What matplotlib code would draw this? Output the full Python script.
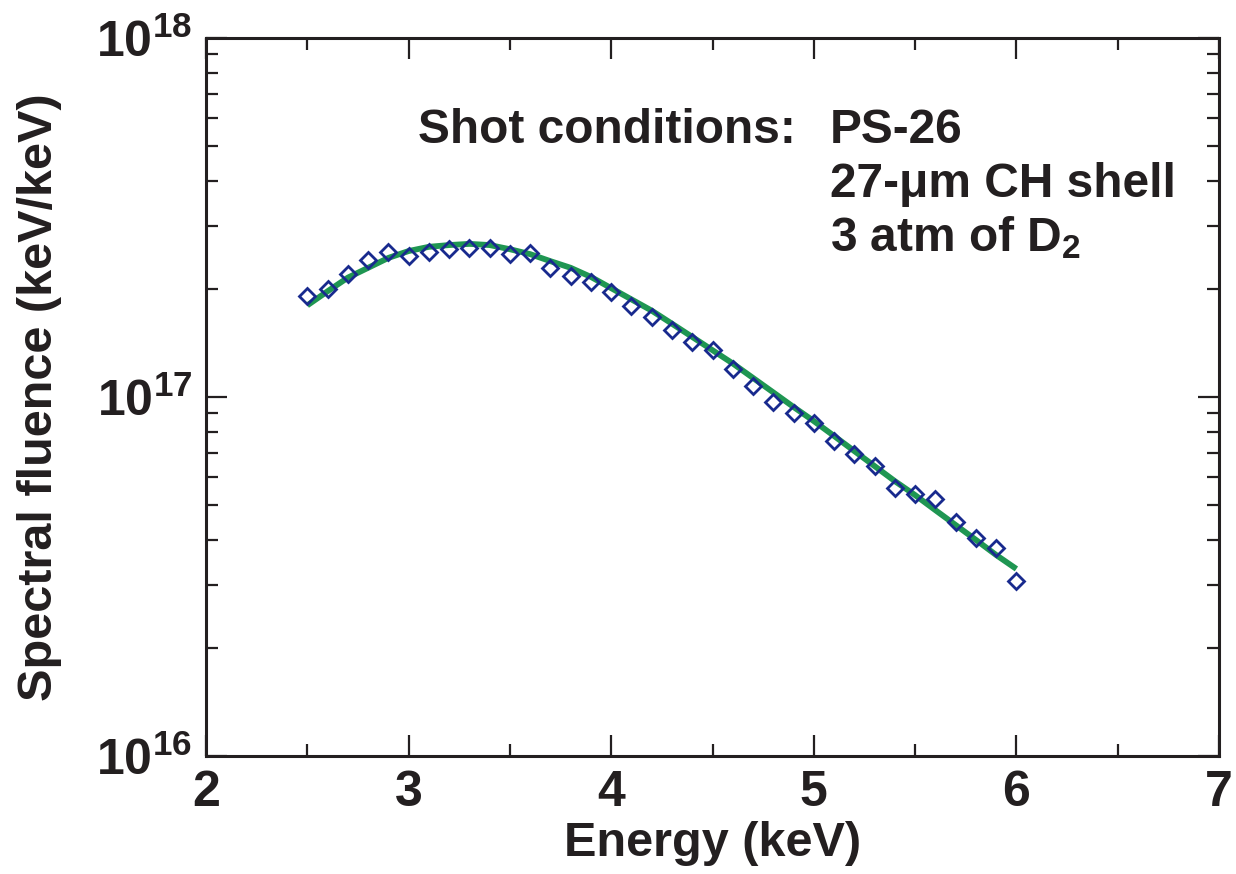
import matplotlib
matplotlib.use("Agg")
import matplotlib.pyplot as plt
from matplotlib.ticker import FixedLocator, FixedFormatter, LogLocator, NullFormatter, MultipleLocator

plt.rcParams['font.family'] = ['Liberation Sans', 'DejaVu Sans']
plt.rcParams['font.weight'] = 'bold'
plt.rcParams['mathtext.fontset'] = 'custom'
plt.rcParams['mathtext.rm'] = 'Liberation Sans:bold'
plt.rcParams['mathtext.bf'] = 'Liberation Sans:bold'
plt.rcParams['mathtext.it'] = 'Liberation Sans:bold'

# Measured data (diamonds)
energy = [2.5, 2.6, 2.7, 2.8, 2.9, 3.0, 3.1, 3.2, 3.3, 3.4, 3.5, 3.6, 3.7, 3.8,
          3.9, 4.0, 4.1, 4.2, 4.3, 4.4, 4.5, 4.6, 4.7, 4.8, 4.9, 5.0, 5.1, 5.2,
          5.3, 5.4, 5.5, 5.6, 5.7, 5.8, 5.9, 6.0]
fluence = [1.91e17, 2.00e17, 2.20e17, 2.41e17, 2.53e17, 2.47e17, 2.53e17, 2.58e17,
           2.60e17, 2.60e17, 2.50e17, 2.52e17, 2.29e17, 2.17e17, 2.09e17, 1.96e17,
           1.79e17, 1.67e17, 1.54e17, 1.42e17, 1.35e17, 1.20e17, 1.07e17, 9.68e16,
           9.03e16, 8.46e16, 7.54e16, 6.94e16, 6.42e16, 5.58e16, 5.37e16, 5.20e16,
           4.49e16, 4.05e16, 3.80e16, 3.07e16]

# Fit curve (green line)
fit_energy = energy
fit_fluence = [1.80e17, 1.97e17, 2.15e17, 2.29e17, 2.44e17, 2.55e17, 2.62e17, 2.65e17,
               2.67e17, 2.65e17, 2.58e17, 2.50e17, 2.39e17, 2.29e17, 2.16e17, 2.01e17,
               1.87e17, 1.74e17, 1.60e17, 1.47e17, 1.35e17, 1.24e17, 1.13e17, 1.03e17,
               9.38e16, 8.57e16, 7.79e16, 7.07e16, 6.42e16, 5.83e16, 5.33e16, 4.84e16,
               4.40e16, 4.00e16, 3.63e16, 3.32e16]

x_ticks = [2, 3, 4, 5, 6, 7]
x_ticklabels = ['2', '3', '4', '5', '6', '7']
y_ticks = [1e16, 1e17, 1e18]
y_ticklabels = [r'$10^{16}$', r'$10^{17}$', r'$10^{18}$']

fig = plt.figure(figsize=(12.36, 8.74), dpi=100)
ax = fig.add_axes([206/1236, 1 - 756/874, (1219 - 206)/1236, (756 - 38)/874])

ax.plot(fit_energy, fit_fluence, color='#1f9652', lw=4.2, solid_capstyle='butt', zorder=2)
ax.plot(energy, fluence, linestyle='none', marker='D', ms=8.6, mfc='none',
        mec='#182a8e', mew=2.0, zorder=3)

ax.set_yscale('log')
ax.set_xlim(2, 7)
ax.set_ylim(1e16, 1e18)

ax.xaxis.set_major_locator(FixedLocator(x_ticks))
ax.xaxis.set_major_formatter(FixedFormatter(x_ticklabels))
ax.xaxis.set_minor_locator(MultipleLocator(0.5))
ax.yaxis.set_major_locator(FixedLocator(y_ticks))
ax.yaxis.set_major_formatter(FixedFormatter(y_ticklabels))
ax.yaxis.set_minor_locator(LogLocator(base=10, subs=[2, 3, 4, 5, 6, 7, 8, 9]))
ax.yaxis.set_minor_formatter(NullFormatter())

ax.tick_params(which='both', direction='in', top=True, right=True, color='#231f20')
ax.tick_params(which='major', length=15, width=1.6, labelsize=36, pad=10, labelcolor='#231f20')
ax.tick_params(which='minor', length=8.5, width=1.6)
for s in ax.spines.values():
    s.set_linewidth(2.2)
    s.set_color('#231f20')

ax.set_xlabel('Energy (keV)', fontsize=35, fontweight='bold', color='#231f20', labelpad=4)
ax.set_ylabel('Spectral fluence (keV/keV)', fontsize=35, fontweight='bold', color='#231f20')
ax.yaxis.set_label_coords(-0.142, 0.5)

tc = '#231f20'
fs = 34.5
ax.text(0.209, 0.854, 'Shot conditions:', transform=ax.transAxes, fontsize=fs,
        fontweight='bold', color=tc, va='baseline', ha='left')
ax.text(0.616, 0.854, 'PS-26', transform=ax.transAxes, fontsize=fs,
        fontweight='bold', color=tc, va='baseline', ha='left')
ax.text(0.616, 0.779, '27-μm CH shell', transform=ax.transAxes, fontsize=fs,
        fontweight='bold', color=tc, va='baseline', ha='left')
ax.text(0.616, 0.703, r'3 atm of D$_2$', transform=ax.transAxes, fontsize=fs,
        fontweight='bold', color=tc, va='baseline', ha='left')

fig.savefig('out.png', dpi=100)
